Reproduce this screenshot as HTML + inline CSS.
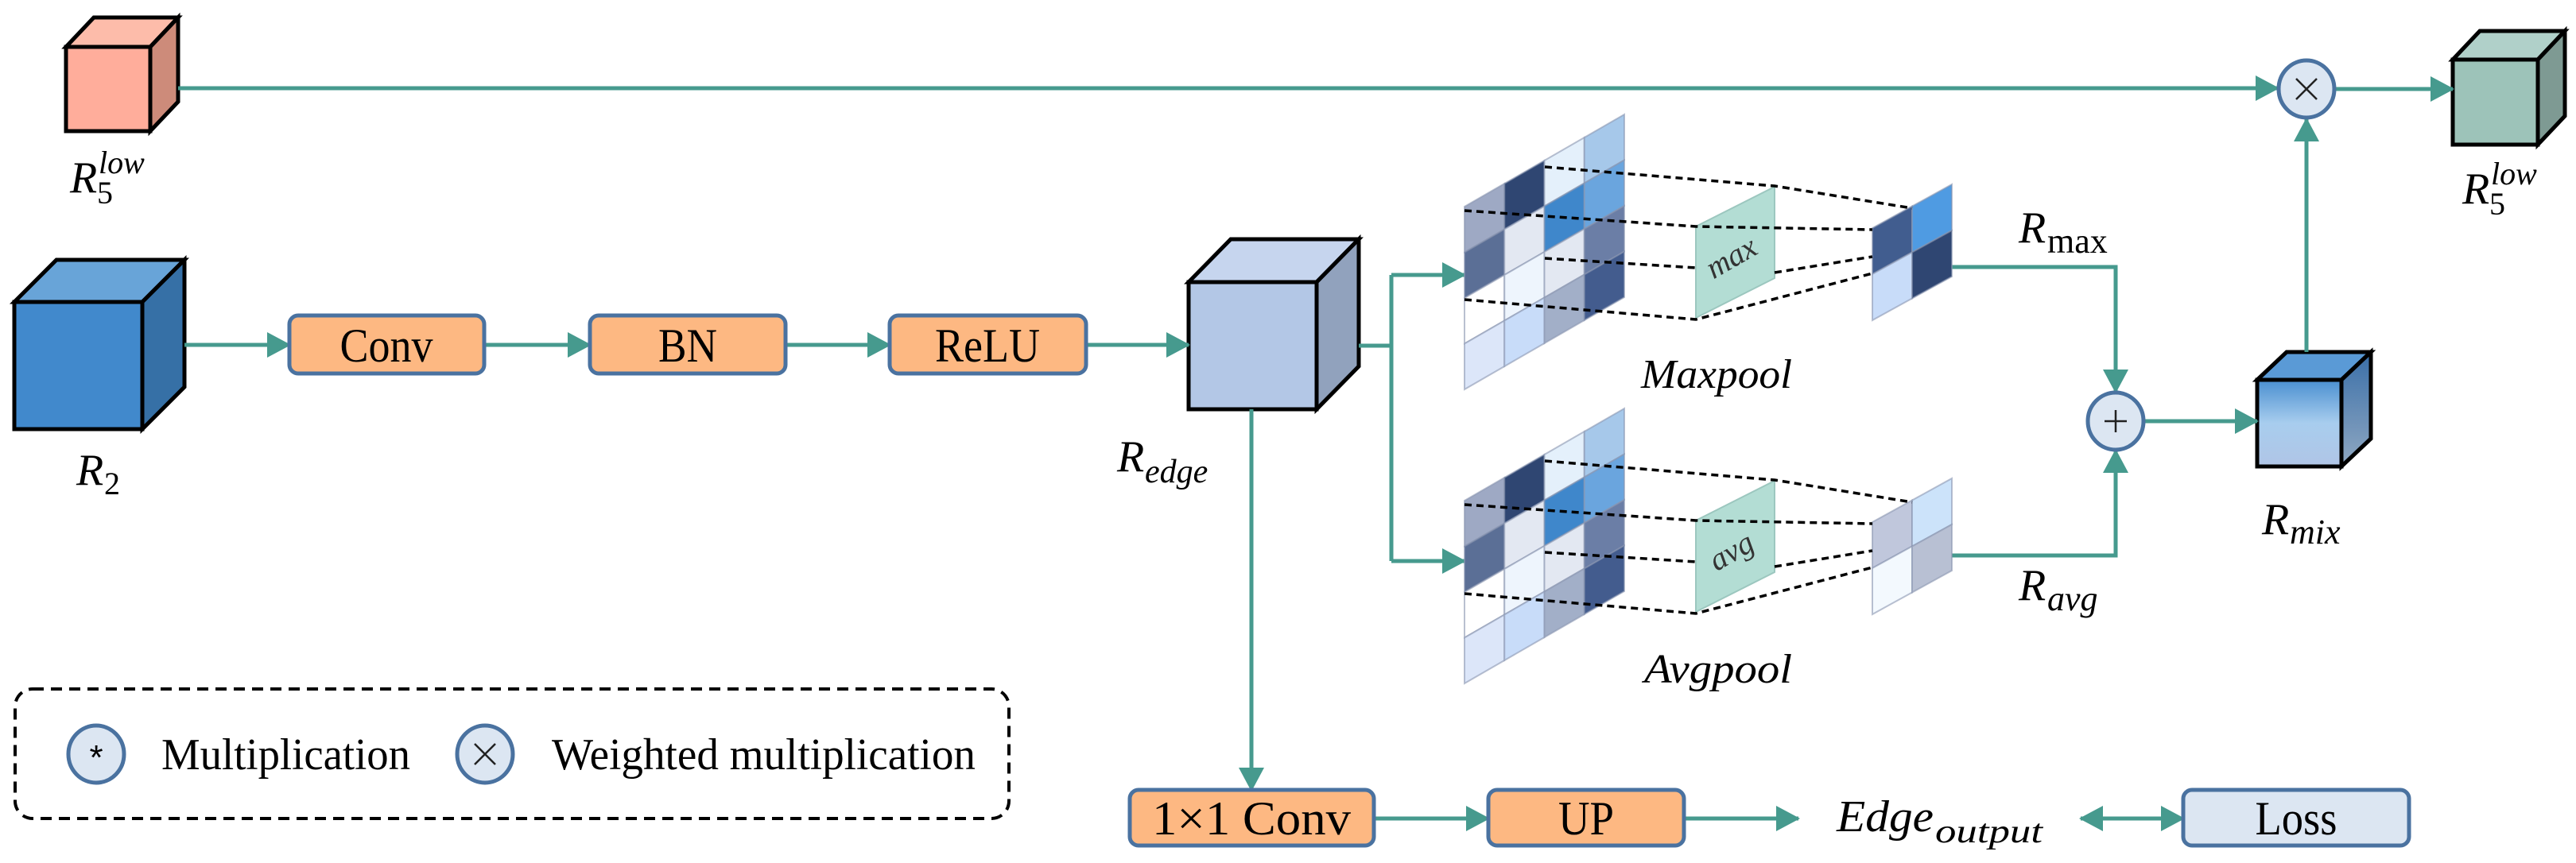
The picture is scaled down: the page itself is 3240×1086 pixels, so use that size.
<!DOCTYPE html>
<html><head><meta charset="utf-8"><style>html,body{margin:0;padding:0;background:#fff}svg{display:block}</style></head><body>
<svg width="3240" height="1086" viewBox="0 0 3240 1086" xmlns="http://www.w3.org/2000/svg">
<defs>
<marker id="ah" markerUnits="userSpaceOnUse" markerWidth="30" markerHeight="32" refX="28" refY="16" orient="auto"><path d="M0,0 L30,16 L0,32 z" fill="#469a8e"/></marker>
<marker id="ahs" markerUnits="userSpaceOnUse" markerWidth="30" markerHeight="32" refX="2" refY="16" orient="auto"><path d="M30,0 L0,16 L30,32 z" fill="#469a8e"/></marker>
<linearGradient id="gmf" x1="0" y1="0" x2="0" y2="1"><stop offset="0" stop-color="#4a8fd0"/><stop offset="0.5" stop-color="#a8cdee"/><stop offset="1" stop-color="#b0c5e6"/></linearGradient>
<linearGradient id="gmr" x1="0" y1="0" x2="0" y2="1"><stop offset="0" stop-color="#3a6fa8"/><stop offset="1" stop-color="#90a8c2"/></linearGradient>
</defs>
<g stroke="#000" stroke-width="5" stroke-linejoin="miter">
<polygon points="83,59 118,22 224,22 189,59" fill="#fdbcaa"/><polygon points="189,59 224,22 224,128 189,165" fill="#cd8b7a"/><rect x="83" y="59" width="106" height="106" fill="#ffad9b"/>
<polygon points="18,380 71,327 232,327 179,380" fill="#68a4d8"/><polygon points="179,380 232,327 232,487 179,540" fill="#3670a6"/><rect x="18" y="380" width="161" height="160" fill="#4189cc"/>
<polygon points="1495,355 1548,301 1709,301 1656,355" fill="#c6d5ee"/><polygon points="1656,355 1709,301 1709,461 1656,515" fill="#91a2bd"/><rect x="1495" y="355" width="161" height="160" fill="#b3c7e6"/>
<polygon points="2839,478 2876,443 2982,443 2945,478" fill="#5a9ad6"/><polygon points="2945,478 2982,443 2982,552 2945,587" fill="url(#gmr)"/><rect x="2839" y="478" width="106" height="109" fill="url(#gmf)"/>
<polygon points="3085,75 3119,39 3226,39 3192,75" fill="#b0d0c9"/><polygon points="3192,75 3226,39 3226,146 3192,182" fill="#7e9a93"/><rect x="3085" y="75" width="107" height="107" fill="#9dc3b9"/>
</g>
<g fill="none" stroke="#469a8e" stroke-width="5">
<path d="M224 111 H2865" marker-end="url(#ah)"/>
<path d="M2937 112 H3085" marker-end="url(#ah)"/>
<path d="M2901 443 V150" marker-end="url(#ah)"/>
<path d="M232 434 H364" marker-end="url(#ah)"/>
<path d="M609 434 H742" marker-end="url(#ah)"/>
<path d="M988 434 H1119" marker-end="url(#ah)"/>
<path d="M1366 434 H1495" marker-end="url(#ah)"/>
<path d="M1709 435 H1750 M1750 346 V706"/>
<path d="M1750 346 H1842" marker-end="url(#ah)"/>
<path d="M1750 706 H1842" marker-end="url(#ah)"/>
<path d="M1574 515 V994" marker-end="url(#ah)"/>
<path d="M1728 1030 H1872" marker-end="url(#ah)"/>
<path d="M2118 1030 H2262" marker-end="url(#ah)"/>
<path d="M2617 1030 H2746" marker-start="url(#ahs)" marker-end="url(#ah)"/>
<path d="M2455 336 H2661 V493" marker-end="url(#ah)"/>
<path d="M2455 699 H2661 V567" marker-end="url(#ah)"/>
<path d="M2697 530 H2839" marker-end="url(#ah)"/>
</g>
<g stroke="#8a96b0" stroke-opacity="0.6" stroke-width="2">
<g transform="matrix(50.25,-29,0,57.5,1842,260)">
<rect x="0" y="0" width="1" height="1" fill="#9ea9c4" vector-effect="non-scaling-stroke"/><rect x="1" y="0" width="1" height="1" fill="#2f4672" vector-effect="non-scaling-stroke"/><rect x="2" y="0" width="1" height="1" fill="#e4f0fb" vector-effect="non-scaling-stroke"/><rect x="3" y="0" width="1" height="1" fill="#a6c8ea" vector-effect="non-scaling-stroke"/>
<rect x="0" y="1" width="1" height="1" fill="#5b6f96" vector-effect="non-scaling-stroke"/><rect x="1" y="1" width="1" height="1" fill="#e3e8f2" vector-effect="non-scaling-stroke"/><rect x="2" y="1" width="1" height="1" fill="#3f87cb" vector-effect="non-scaling-stroke"/><rect x="3" y="1" width="1" height="1" fill="#6aa5de" vector-effect="non-scaling-stroke"/>
<rect x="0" y="2" width="1" height="1" fill="#ffffff" vector-effect="non-scaling-stroke"/><rect x="1" y="2" width="1" height="1" fill="#eef5fd" vector-effect="non-scaling-stroke"/><rect x="2" y="2" width="1" height="1" fill="#e3e8f2" vector-effect="non-scaling-stroke"/><rect x="3" y="2" width="1" height="1" fill="#6b7ea6" vector-effect="non-scaling-stroke"/>
<rect x="0" y="3" width="1" height="1" fill="#dce6f9" vector-effect="non-scaling-stroke"/><rect x="1" y="3" width="1" height="1" fill="#c8dcf9" vector-effect="non-scaling-stroke"/><rect x="2" y="3" width="1" height="1" fill="#a2afc8" vector-effect="non-scaling-stroke"/><rect x="3" y="3" width="1" height="1" fill="#435c8e" vector-effect="non-scaling-stroke"/>
</g>
<g transform="matrix(50.25,-29,0,57.5,1842,630)">
<rect x="0" y="0" width="1" height="1" fill="#9ea9c4" vector-effect="non-scaling-stroke"/><rect x="1" y="0" width="1" height="1" fill="#2f4672" vector-effect="non-scaling-stroke"/><rect x="2" y="0" width="1" height="1" fill="#e4f0fb" vector-effect="non-scaling-stroke"/><rect x="3" y="0" width="1" height="1" fill="#a6c8ea" vector-effect="non-scaling-stroke"/>
<rect x="0" y="1" width="1" height="1" fill="#5b6f96" vector-effect="non-scaling-stroke"/><rect x="1" y="1" width="1" height="1" fill="#e3e8f2" vector-effect="non-scaling-stroke"/><rect x="2" y="1" width="1" height="1" fill="#3f87cb" vector-effect="non-scaling-stroke"/><rect x="3" y="1" width="1" height="1" fill="#6aa5de" vector-effect="non-scaling-stroke"/>
<rect x="0" y="2" width="1" height="1" fill="#ffffff" vector-effect="non-scaling-stroke"/><rect x="1" y="2" width="1" height="1" fill="#eef5fd" vector-effect="non-scaling-stroke"/><rect x="2" y="2" width="1" height="1" fill="#e3e8f2" vector-effect="non-scaling-stroke"/><rect x="3" y="2" width="1" height="1" fill="#6b7ea6" vector-effect="non-scaling-stroke"/>
<rect x="0" y="3" width="1" height="1" fill="#dce6f9" vector-effect="non-scaling-stroke"/><rect x="1" y="3" width="1" height="1" fill="#c8dcf9" vector-effect="non-scaling-stroke"/><rect x="2" y="3" width="1" height="1" fill="#a2afc8" vector-effect="non-scaling-stroke"/><rect x="3" y="3" width="1" height="1" fill="#435c8e" vector-effect="non-scaling-stroke"/>
</g>
<g transform="matrix(50,-27.5,0,58,2355,287)">
<rect x="0" y="0" width="1" height="1" fill="#415d8f" vector-effect="non-scaling-stroke"/><rect x="1" y="0" width="1" height="1" fill="#4f9be2" vector-effect="non-scaling-stroke"/>
<rect x="0" y="1" width="1" height="1" fill="#c8dcf9" vector-effect="non-scaling-stroke"/><rect x="1" y="1" width="1" height="1" fill="#2f4672" vector-effect="non-scaling-stroke"/>
</g>
<g transform="matrix(50,-27.5,0,58,2355,657)">
<rect x="0" y="0" width="1" height="1" fill="#c0c7dc" vector-effect="non-scaling-stroke"/><rect x="1" y="0" width="1" height="1" fill="#cce3fa" vector-effect="non-scaling-stroke"/>
<rect x="0" y="1" width="1" height="1" fill="#f3f9fe" vector-effect="non-scaling-stroke"/><rect x="1" y="1" width="1" height="1" fill="#b8c0d3" vector-effect="non-scaling-stroke"/>
</g>
</g>
<polygon points="2133,285 2232,235 2232,350 2133,400" fill="#b3ddd4" stroke="#9cc7bf" stroke-width="2"/>
<polygon points="2133,655 2232,605 2232,720 2133,770" fill="#b3ddd4" stroke="#9cc7bf" stroke-width="2"/>
<g fill="none" stroke="#000" stroke-width="3.5" stroke-dasharray="9,6">
<path d="M1943 210 L2232 234 L2405 262 M1842 265 L2133 285 L2355 289 M1943 325 L2133 337 M2232 343 L2355 323 M1842 377 L2133 402 L2355 344"/>
<path d="M1943 580 L2232 604 L2405 632 M1842 635 L2133 655 L2355 659 M1943 695 L2133 707 M2232 713 L2355 693 M1842 747 L2133 772 L2355 714"/>
</g>
<g font-family="'Liberation Serif', serif" font-style="italic" fill="#333" font-size="40">
<text transform="translate(2184,335) rotate(-30)" text-anchor="middle">max</text>
<text transform="translate(2184,705) rotate(-30)" text-anchor="middle">avg</text>
</g>
<g fill="#dce6f2" stroke="#4a72a0" stroke-width="5">
<ellipse cx="2901" cy="112" rx="35" ry="36"/>
<ellipse cx="2661" cy="530" rx="35" ry="36"/>
<ellipse cx="121" cy="949" rx="35" ry="36"/>
<ellipse cx="610" cy="949" rx="35" ry="36"/>
</g>
<g stroke="#222" stroke-width="2.5" fill="none">
<path d="M2888 99 L2914 125 M2914 99 L2888 125"/>
<path d="M2661 516 V544 M2647 530 H2675"/>
<path d="M597 936 L623 962 M623 936 L597 962"/>
</g>
<text x="121" y="968" text-anchor="middle" font-family="'Liberation Sans', sans-serif" font-size="44" fill="#000">*</text>
<g stroke="#4a72a0" stroke-width="5">
<rect x="364" y="397" width="245" height="73" rx="11" fill="#fdb882"/>
<rect x="742" y="397" width="246" height="73" rx="11" fill="#fdb882"/>
<rect x="1119" y="397" width="247" height="73" rx="11" fill="#fdb882"/>
<rect x="1421" y="994" width="307" height="70" rx="11" fill="#fdb882"/>
<rect x="1872" y="994" width="246" height="70" rx="11" fill="#fdb882"/>
<rect x="2746" y="994" width="284" height="70" rx="11" fill="#dce6f2"/>
</g>
<rect x="19" y="867" width="1250" height="163" rx="22" fill="none" stroke="#000" stroke-width="4" stroke-dasharray="14,9"/>
<g font-family="'Liberation Serif', serif" fill="#000" font-size="60">
<text x="486" y="455" text-anchor="middle" textLength="117" lengthAdjust="spacingAndGlyphs">Conv</text>
<text x="865" y="455" text-anchor="middle" textLength="74" lengthAdjust="spacingAndGlyphs">BN</text>
<text x="1242" y="455" text-anchor="middle" textLength="132" lengthAdjust="spacingAndGlyphs">ReLU</text>
<text x="1574" y="1050" text-anchor="middle" textLength="250" lengthAdjust="spacingAndGlyphs">1×1 Conv</text>
<text x="1995" y="1050" text-anchor="middle" textLength="70" lengthAdjust="spacingAndGlyphs">UP</text>
<text x="2888" y="1050" text-anchor="middle" textLength="103" lengthAdjust="spacingAndGlyphs">Loss</text>
<text x="203" y="968" textLength="313" lengthAdjust="spacingAndGlyphs" font-size="56">Multiplication</text>
<text x="694" y="968" textLength="533" lengthAdjust="spacingAndGlyphs" font-size="56">Weighted multiplication</text>
</g>
<g font-family="'Liberation Serif', serif" font-style="italic" fill="#000" font-size="56">
<text x="88" y="242">R</text><text x="122" y="256" font-size="40" font-style="normal">5</text><text x="124" y="218" font-size="40">low</text>
<text x="3097" y="256">R</text><text x="3131" y="270" font-size="40" font-style="normal">5</text><text x="3133" y="232" font-size="40">low</text>
<text x="96" y="610">R</text><text x="131" y="622" font-size="40" font-style="normal">2</text>
<text x="1405" y="593">R</text><text x="1440" y="607" font-size="42">edge</text>
<text x="2539" y="305">R</text><text x="2575" y="318" font-size="44" font-style="normal">max</text>
<text x="2539" y="755">R</text><text x="2575" y="768" font-size="44">avg</text>
<text x="2845" y="672">R</text><text x="2880" y="684" font-size="44">mix</text>
<text x="2064" y="488" font-size="52" textLength="190" lengthAdjust="spacingAndGlyphs">Maxpool</text>
<text x="2068" y="859" font-size="52" textLength="186" lengthAdjust="spacingAndGlyphs">Avgpool</text>
<text x="2310" y="1046" textLength="122" lengthAdjust="spacingAndGlyphs">Edge</text><text x="2434" y="1060" font-size="42" textLength="135" lengthAdjust="spacingAndGlyphs">output</text>
</g>
</svg>
</body></html>
